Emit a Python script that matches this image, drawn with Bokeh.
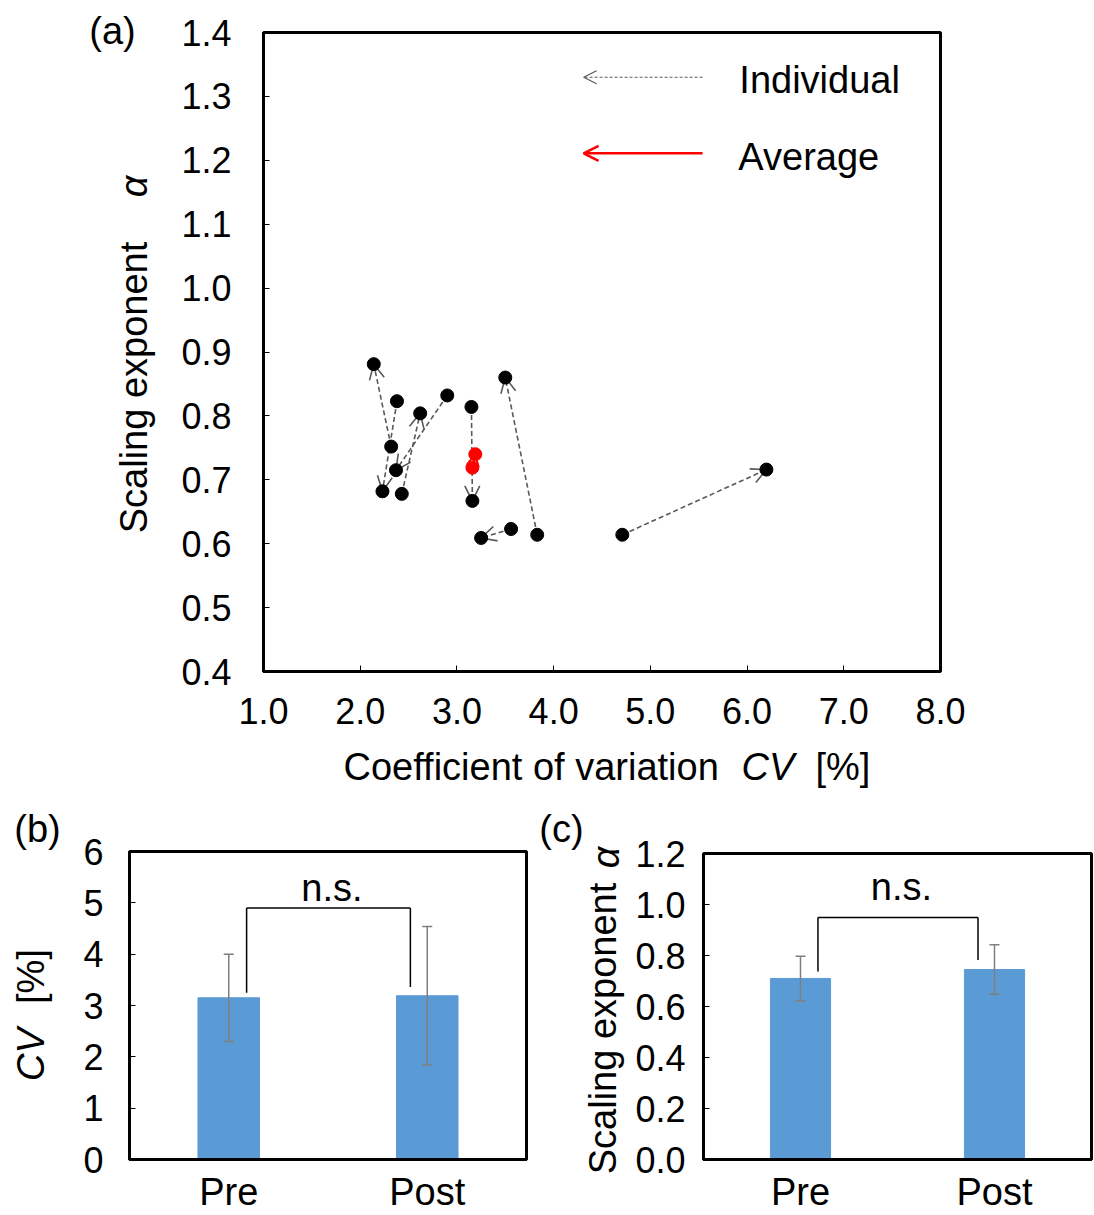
import math
from bokeh.plotting import figure
from bokeh.models import (Range1d, FactorRange, Arrow, OpenHead, Label, Whisker, TeeHead,
                          ColumnDataSource, FixedTicker, NumeralTickFormatter)
from bokeh.layouts import column, row
from bokeh.transform import dodge
from bokeh.embed import file_html
from bokeh.resources import INLINE
from bokeh.core.properties import value

# ---------------- data ----------------
# Panel (a): each participant, pre -> post
pre_cv = [4.71, 3.83, 3.56, 3.15, 2.43, 2.90, 2.32, 2.38]
pre_alpha = [0.614, 0.614, 0.623, 0.814, 0.678, 0.832, 0.752, 0.823]
post_cv = [6.20, 3.50, 3.25, 3.16, 2.62, 2.37, 2.14, 2.23]
post_alpha = [0.716, 0.860, 0.609, 0.667, 0.804, 0.715, 0.881, 0.682]
avg_pre = [3.16, 0.719]    # (CV, alpha)
avg_post = [3.19, 0.740]

a_xticks = [1.0, 2.0, 3.0, 4.0, 5.0, 6.0, 7.0, 8.0]
a_yticks = [0.4, 0.5, 0.6, 0.7, 0.8, 0.9, 1.0, 1.1, 1.2, 1.3, 1.4]

# Panels (b), (c)
categories = ["Pre", "Post"]
cv_mean = [3.15, 3.19]
cv_sd = [0.85, 1.35]
alpha_mean = [0.710, 0.745]
alpha_sd = [0.087, 0.097]
b_yticks = [0, 1, 2, 3, 4, 5, 6]
c_yticks = [0.0, 0.2, 0.4, 0.6, 0.8, 1.0, 1.2]
b_bracket = [3.25, 4.90, 3.36]   # left leg bottom, top, right leg bottom
c_bracket = [0.737, 0.949, 0.782]
b_ns_y = 5.28
c_ns_y = 1.07

FONT = "Liberation Sans"
TICK = "36px"
LAB = "38px"
BLUE = "#5B9BD5"
GREY = "#595959"


def no_align(p):
    try:
        p.frame_align = False
    except Exception:
        pass


def style(p):
    no_align(p)
    p.xgrid.grid_line_color = None
    p.ygrid.grid_line_color = None
    p.outline_line_color = "black"
    p.outline_line_width = 3
    p.outline_line_alpha = 1
    p.background_fill_color = "white"
    p.border_fill_color = "white"
    for ax in p.axis:
        ax.axis_line_color = "black"
        ax.axis_line_width = 3
        ax.major_tick_in = 6
        ax.major_tick_out = 0
        ax.major_tick_line_color = "black"
        ax.major_tick_line_width = 1
        ax.minor_tick_line_color = None
        ax.major_label_text_font = FONT
        ax.major_label_text_font_size = TICK
        ax.major_label_text_color = "black"


def text_fig(w, h, items):
    """A blank strip that only carries text; items: (text, x, y_from_top, italic, vertical, align)."""
    f = figure(width=w, height=h, output_backend="svg", toolbar_location=None,
               x_range=Range1d(0, w), y_range=Range1d(0, h), min_border=0,
               x_axis_location=None, y_axis_location=None)
    no_align(f)
    f.outline_line_color = None
    f.grid.visible = False
    f.background_fill_color = "white"
    f.border_fill_color = "white"
    for text, x, y, italic, vertical, align in items:
        f.add_layout(Label(x=x, y=h - y, text=text, text_font=FONT, text_font_size=LAB,
                           text_font_style="italic" if italic else "normal",
                           text_color="black", text_align=align, text_baseline="middle",
                           angle=math.pi / 2 if vertical else 0.0, angle_units="rad"))
    return f


def lab_in(p, text, x, y, align="left"):
    p.add_layout(Label(x=x, y=y, text=text, text_font=FONT, text_font_size=LAB,
                       text_color="black", text_align=align, text_baseline="middle"))


# ---------------- panel (a) ----------------
pa = figure(width=934, height=740, output_backend="svg", toolbar_location=None,
            x_range=Range1d(a_xticks[0], a_xticks[-1]), y_range=Range1d(a_yticks[0], a_yticks[-1]),
            min_border_left=103, min_border_right=154, min_border_top=32, min_border_bottom=69)
style(pa)
pa.xaxis.ticker = FixedTicker(ticks=a_xticks)
pa.yaxis.ticker = FixedTicker(ticks=a_yticks)
pa.xaxis.formatter = NumeralTickFormatter(format="0.0")
pa.yaxis.formatter = NumeralTickFormatter(format="0.0")
pa.xaxis.major_label_standoff = 26
pa.yaxis.major_label_standoff = 32

ind_src = ColumnDataSource(dict(x0=pre_cv, y0=pre_alpha, x1=post_cv, y1=post_alpha))
pa.add_layout(Arrow(source=ind_src, x_start="x0", y_start="y0", x_end="x1", y_end="y1",
                    line_color=GREY, line_width=1.6, line_dash="5 3", level="underlay",
                    end=OpenHead(size=15, line_color=GREY, line_width=1.6)))
pa.add_layout(Arrow(x_start=avg_pre[0], y_start=avg_pre[1], x_end=avg_post[0], y_end=avg_post[1],
                    line_color="red", line_width=2, level="underlay",
                    end=OpenHead(size=12, line_color="red", line_width=2)))
pa.scatter(pre_cv, pre_alpha, size=13, color="black")
pa.scatter(post_cv, post_alpha, size=13, color="black")
pa.scatter([avg_pre[0], avg_post[0]], [avg_pre[1], avg_post[1]], size=13, color="red")

# legend (drawn inside the frame)
leg_x = [5.54, 4.31, 5.92]          # arrow tail, arrow tip, text left (data x)
leg_y = [1.330, 1.211]
leg_src = ColumnDataSource(dict(xs=[leg_x[0]], xe=[leg_x[1]], y=[leg_y[0]]))
pa.add_layout(Arrow(source=leg_src, x_start="xs", y_start="y", x_end="xe", y_end="y",
                    line_color=GREY, line_width=1.2, line_dash="3 2",
                    end=OpenHead(size=13, line_color=GREY, line_width=1.2)))
leg_src2 = ColumnDataSource(dict(xs=[leg_x[0]], xe=[leg_x[1]], y=[leg_y[1]]))
pa.add_layout(Arrow(source=leg_src2, x_start="xs", y_start="y", x_end="xe", y_end="y",
                    line_color="red", line_width=2.5,
                    end=OpenHead(size=15, line_color="red", line_width=2.5)))
lab_in(pa, "Individual", leg_x[2], leg_y[0] - 0.005)
lab_in(pa, "Average", leg_x[2] - 0.01, leg_y[1] - 0.006)

strip_a = text_fig(160, 800, [
    ("(a)", 112, 30, False, False, "center"),
    ("Scaling exponent", 133, 387, False, True, "center"),
    ("\u03b1", 133, 186, True, True, "center"),
])
xlab_a = text_fig(934, 60, [
    ("Coefficient of variation", 343 - 160, 26, False, False, "left"),
    ("CV", 741 - 160, 26, True, False, "left"),
    ("[%]", 815 - 160, 26, False, False, "left"),
])


# ---------------- bar panels ----------------
def bar_panel(means, sds, yticks, fmt, bracket, ns_y, w, left, right, top, bottom):
    p = figure(width=w, height=415, output_backend="svg", toolbar_location=None,
               x_range=FactorRange(factors=categories), y_range=Range1d(yticks[0], yticks[-1]),
               min_border_left=left, min_border_right=right, min_border_top=top,
               min_border_bottom=bottom)
    style(p)
    p.yaxis.ticker = FixedTicker(ticks=yticks)
    p.yaxis.formatter = NumeralTickFormatter(format=fmt)
    p.xaxis.major_tick_line_color = None
    p.xaxis.major_label_text_font_size = LAB
    p.xaxis.major_label_standoff = 11
    src = ColumnDataSource(dict(x=categories, top=means,
                                upper=[m + s for m, s in zip(means, sds)],
                                lower=[m - s for m, s in zip(means, sds)]))
    p.vbar(x="x", top="top", width=0.31, source=src, fill_color=BLUE, line_color=BLUE)
    p.add_layout(Whisker(source=src, base="x", upper="upper", lower="lower", level="annotation",
                         line_color="#7f7f7f", line_width=1.5,
                         upper_head=TeeHead(size=10, line_color="#7f7f7f", line_width=1.5),
                         lower_head=TeeHead(size=10, line_color="#7f7f7f", line_width=1.5)))
    bsrc = ColumnDataSource(dict(a=[categories[0]], b=[categories[1]],
                                 yl=[bracket[0]], yt=[bracket[1]], yr=[bracket[2]],
                                 t=["n.s."], ny=[ns_y]))
    xa = dodge("a", 0.09, range=p.x_range)
    xb = dodge("b", -0.085, range=p.x_range)
    p.segment(x0=xa, y0="yl", x1=xa, y1="yt", source=bsrc, line_color="black", line_width=1.5)
    p.segment(x0=xb, y0="yr", x1=xb, y1="yt", source=bsrc, line_color="black", line_width=1.5)
    p.segment(x0=xa, y0="yt", x1=xb, y1="yt", source=bsrc, line_color="black", line_width=1.5)
    p.text(x=dodge("a", 0.52, range=p.x_range), y="ny", text="t", source=bsrc,
           text_font=value(FONT), text_font_size=LAB, text_align="center",
           text_baseline="middle", text_color="black")
    return p


pb = bar_panel(cv_mean, cv_sd, b_yticks, "0", b_bracket, b_ns_y, 467, 59, 11, 51, 55)
pb.yaxis.major_label_standoff = 26
strip_b = text_fig(70, 415, [
    ("(b)", 37, 28, False, False, "center"),
    ("CV", 30, 254, True, True, "center"),
    ("[%]", 30, 176, False, True, "center"),
])

pc = bar_panel(alpha_mean, alpha_sd, c_yticks, "0.0", c_bracket, c_ns_y, 462, 71, 3, 53, 55)
pc.yaxis.major_label_standoff = 18
strip_c = text_fig(95, 415, [
    ("(c)", 24, 28, False, False, "center"),
    ("Scaling exponent", 65, 228, False, True, "center"),
    ("\u03b1", 68, 57, True, True, "center"),
])

layout = column(
    row(strip_a, column(pa, xlab_a, spacing=0), spacing=0),
    row(strip_b, pb, strip_c, pc, spacing=0),
    spacing=0,
)
open("out.html", "w").write(file_html(layout, INLINE))
